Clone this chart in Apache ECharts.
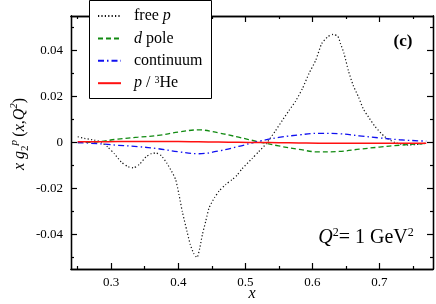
<!DOCTYPE html>
<html><head><meta charset="utf-8">
<script src="https://cdn.jsdelivr.net/npm/echarts@6/dist/echarts.min.js"></script>
<style>html,body{margin:0;padding:0;background:#fff}#c{width:436px;height:304px}</style>
</head><body><div id="c"></div>
<script>
// ---- data ----
const xFree = [0.250,0.260,0.275,0.285,0.295,0.305,0.315,0.325,0.333,0.342,0.352,0.360,0.367,0.375,0.383,0.390,0.396,0.401,0.406,0.413,0.418,0.423,0.428,0.432,0.436,0.441,0.446,0.454,0.461,0.471,0.481,0.488,0.495,0.510,0.520,0.531,0.545,0.555,0.565,0.575,0.585,0.595,0.605,0.614,0.623,0.631,0.638,0.642,0.647,0.654,0.661,0.669,0.676,0.684,0.694,0.708,0.723,0.743,0.762,0.770];
const yFree = [0.0025,0.0018,0.0010,0.0002,-0.0020,-0.0050,-0.0085,-0.0105,-0.0110,-0.0095,-0.0062,-0.0048,-0.0046,-0.0058,-0.0090,-0.0125,-0.0160,-0.0225,-0.0300,-0.0386,-0.0444,-0.0482,-0.0500,-0.0460,-0.0400,-0.0342,-0.0284,-0.0240,-0.0211,-0.0182,-0.0160,-0.0141,-0.0115,-0.0070,-0.0040,-0.0006,0.0051,0.0095,0.0138,0.0180,0.0233,0.0300,0.0357,0.0430,0.0460,0.0470,0.0462,0.0430,0.0390,0.0310,0.0248,0.0197,0.0146,0.0110,0.0068,0.0025,0.0000,-0.0011,-0.0007,-0.0003];
const xGrid = [0.25,0.28,0.31,0.34,0.37,0.40,0.43,0.46,0.49,0.52,0.55,0.58,0.61,0.64,0.67,0.70,0.73,0.76,0.77];
const yDpole = [0.0000,0.0003,0.0015,0.0023,0.0031,0.0045,0.0055,0.0042,0.0023,0.0003,-0.0015,-0.0030,-0.0041,-0.0039,-0.0029,-0.0020,-0.0012,-0.0006,-0.0005];
const yCont = [0.0000,-0.0005,-0.0012,-0.0018,-0.0027,-0.0040,-0.0049,-0.0037,-0.0017,0.0005,0.0022,0.0033,0.0040,0.0038,0.0029,0.0020,0.0012,0.0007,0.0006];
const yRatio = [0.0003,0.0003,0.0004,0.0004,0.0004,0.0004,0.0003,0.0002,0.0001,0.0000,-0.0001,-0.0002,-0.0003,-0.0003,-0.0003,-0.0003,-0.0003,-0.0003,-0.0003];
const seriesNames = ['free p','d pole','continuum','p / 3He'];
const xTicks = [0.3,0.4,0.5,0.6,0.7];
const xMinor = [0.25,0.35,0.45,0.55,0.65,0.75];
const yTicks = [-0.04,-0.02,0,0.02,0.04];
const yMinor = [-0.05,-0.03,-0.01,0.01,0.03,0.05];

// ---- chart ----
const FONT = 'Liberation Serif';
const zip = (xs, ys) => xs.map((x, i) => [x, ys[i]]);
function mkAxis(dim, pos, vals, len, labels) {
  const isX = dim === 'x';
  return {
    type: 'value', position: pos,
    min: isX ? 0.24 : -0.055, max: isX ? 0.78 : 0.055,
    axisLine: {show: true, onZero: false, lineStyle: {color: '#000', width: 1.3}},
    axisTick: {show: true, inside: true, length: len, customValues: vals, lineStyle: {color: '#000', width: 1.2}},
    axisLabel: {show: labels, customValues: vals, fontFamily: FONT, fontSize: 13, color: '#000',
      margin: isX ? 7 : 8,
      formatter: v => isX ? v.toFixed(1) : (Math.abs(v) < 1e-9 ? '0' : v.toFixed(2))},
    splitLine: {show: false}, minorTick: {show: false}
  };
}
const chart = echarts.init(document.getElementById('c'), null, {renderer: 'canvas'});
const mkLine = (name, data, color, type, width, smooth) => ({
  name, type: 'line', data, symbol: 'none', showSymbol: false, smooth,
  color, lineStyle: {color, width, type}, z: 3
});
chart.setOption({
  animation: false,
  backgroundColor: '#fff',
  grid: {left: 71, right: 3, top: 16, bottom: 35, containLabel: false},
  xAxis: [mkAxis('x','bottom',xTicks,6,true), mkAxis('x','bottom',xMinor,3,false),
          mkAxis('x','top',xTicks,6,false), mkAxis('x','top',xMinor,3,false)],
  yAxis: [mkAxis('y','left',yTicks,6,true), mkAxis('y','left',yMinor,3,false),
          mkAxis('y','right',yTicks,6,false), mkAxis('y','right',yMinor,3,false)],
  legend: {
    orient: 'vertical', left: 97, top: 8, padding: 0, itemWidth: 23, itemHeight: 14, itemGap: 6.4,
    z: 100, data: seriesNames,
    itemStyle: {color: 'rgba(0,0,0,0)', borderColor: 'rgba(0,0,0,0)', borderWidth: 0, opacity: 0},
    formatter: n => ({'free p': 'free {i|p}', 'd pole': '{i|d} pole', 'continuum': 'continuum', 'p / 3He': '{i|p} / {s|3}He'})[n],
    textStyle: {fontFamily: FONT, fontSize: 16, color: '#000', lineHeight: 16, padding: [0,0,0,8],
      rich: {i: {fontFamily: FONT, fontStyle: 'italic', fontSize: 16, lineHeight: 16, color: '#000'},
             s: {fontFamily: FONT, fontSize: 10, lineHeight: 16, verticalAlign: 'top', color: '#000'}}}
  },
  graphic: [
    {type: 'rect', z: 50, shape: {x: 89.5, y: 0.5, width: 122, height: 98}, style: {fill: '#fff', stroke: '#000', lineWidth: 1}},
    {type: 'text', z: 60, x: 403, y: 42, style: {text: '(c)', font: 'bold 17px "Liberation Serif"', fill: '#000', align: 'center', verticalAlign: 'middle'}},
    {type: 'text', z: 60, x: 366, y: 238, style: {
      text: '{i|Q}{s|2}{n|= 1 GeV}{s|2}', align: 'center', verticalAlign: 'middle',
      rich: {i: {fontFamily: FONT, fontStyle: 'italic', fontSize: 20, lineHeight: 22, fill: '#000'},
             n: {fontFamily: FONT, fontSize: 20, lineHeight: 22, fill: '#000'},
             s: {fontFamily: FONT, fontSize: 12, lineHeight: 22, verticalAlign: 'top', fill: '#000'}}}},
    {type: 'text', z: 60, x: 20, y: 134, rotation: Math.PI / 2, style: {
      text: '{i|x g}{b|2}{s|p} {n|(}{i|x}{n|,}{i|Q}{s|2}{n|)}', align: 'center', verticalAlign: 'middle',
      rich: {i: {fontFamily: FONT, fontStyle: 'italic', fontSize: 16, lineHeight: 22, fill: '#000'},
             n: {fontFamily: FONT, fontSize: 16, lineHeight: 22, fill: '#000'},
             s: {fontFamily: FONT, fontStyle: 'italic', fontSize: 11, lineHeight: 22, verticalAlign: 'top', fill: '#000'},
             b: {fontFamily: FONT, fontSize: 11, lineHeight: 22, verticalAlign: 'bottom', fill: '#000'}}}},
    {type: 'text', z: 60, x: 252, y: 294, style: {text: 'x', font: 'italic 16px "Liberation Serif"', fill: '#000', align: 'center', verticalAlign: 'middle'}}
  ],
  series: [
    mkLine(seriesNames[0], zip(xFree, yFree), '#111', [1.2, 2.2], 1.2, 0.2),
    mkLine(seriesNames[1], zip(xGrid, yDpole), '#118a11', [5, 3], 1.3, 0.4),
    mkLine(seriesNames[2], zip(xGrid, yCont), '#1010f0', [6, 3, 1.5, 3], 1.3, 0.4),
    mkLine(seriesNames[3], zip(xGrid, yRatio), '#ff1010', 'solid', 1.5, 0.4)
  ]
});
</script></body></html>
